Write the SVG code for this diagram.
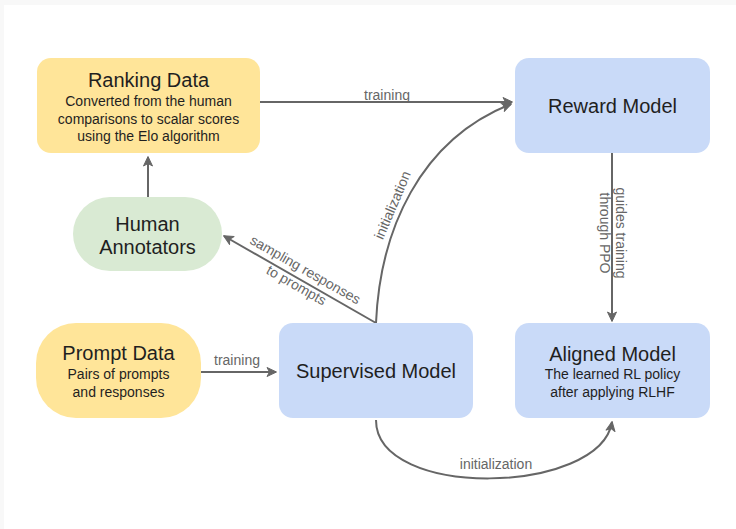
<svg xmlns="http://www.w3.org/2000/svg" width="736" height="529" viewBox="0 0 736 529">
  <style>
    .node-title { font-family: "Liberation Sans", Arial, sans-serif; font-size: 20px; fill: #1f1f1f; text-anchor: middle; }
    .node-sub { font-family: "Liberation Sans", Arial, sans-serif; font-size: 14px; fill: #1f1f1f; text-anchor: middle; }
    .edge-label { font-family: "Liberation Sans", Arial, sans-serif; font-size: 14px; fill: #666666; text-anchor: middle; }
    .yellow { fill: #ffe599; }
    .blue { fill: #c9daf8; }
    .green { fill: #d9ead3; }
    .edge { fill: none; stroke: #666666; stroke-width: 2; }
  </style>
  <defs>
    <marker id="arrow" viewBox="0 0 12 12" refX="10" refY="6" markerWidth="12" markerHeight="12" markerUnits="userSpaceOnUse" orient="auto">
      <path d="M1,1.5 L10.5,6 L1,10.5 L3.5,6 z" fill="#666666" stroke="#666666" stroke-width="1" stroke-linejoin="round"/>
    </marker>
  </defs>

  <!-- page background -->
  <rect x="0" y="0" width="736" height="529" fill="#f8f8f8"/>
  <rect x="4" y="5" width="732" height="524" fill="#ffffff"/>

  <!-- connectors -->
  <g id="connectors">
    <path class="edge" d="M260,102 L512,102" marker-end="url(#arrow)"/>
    <text class="edge-label" x="387" y="100">training</text>

    <path class="edge" d="M148,197 L148,157" marker-end="url(#arrow)"/>

    <path class="edge" d="M201,372 L276,372" marker-end="url(#arrow)"/>
    <text class="edge-label" x="237" y="365">training</text>

    <path class="edge" d="M376,323 L224,236" marker-end="url(#arrow)"/>
    <g transform="translate(300,279) rotate(29.7)">
      <text class="edge-label" x="0" y="-6">sampling responses</text>
      <text class="edge-label" x="0" y="12">to prompts</text>
    </g>

    <path class="edge" d="M376,323 C380,230 420,140 511,104" marker-end="url(#arrow)"/>
    <text class="edge-label" transform="translate(397,207) rotate(-67)" x="0" y="0">initialization</text>

    <path class="edge" d="M612,153 L612,321" marker-end="url(#arrow)"/>
    <g transform="translate(612,233) rotate(90)">
      <text class="edge-label" x="0" y="-4">guides training</text>
      <text class="edge-label" x="0" y="12">through PPO</text>
    </g>

    <path class="edge" d="M376,420 C376,500 600,495 612,422" marker-end="url(#arrow)"/>
    <text class="edge-label" x="496" y="469">initialization</text>
  </g>

  <!-- nodes -->
  <g id="ranking-data">
    <rect class="yellow" x="37" y="58" width="223" height="95" rx="14"/>
    <text class="node-title" x="148.5" y="87">Ranking Data</text>
    <text class="node-sub" x="148.5" y="106">Converted from the human</text>
    <text class="node-sub" x="148.5" y="124">comparisons to scalar scores</text>
    <text class="node-sub" x="148.5" y="141">using the Elo algorithm</text>
  </g>

  <g id="reward-model">
    <rect class="blue" x="515" y="58" width="195" height="95" rx="14"/>
    <text class="node-title" x="612.5" y="113">Reward Model</text>
  </g>

  <g id="human-annotators">
    <rect class="green" x="73" y="197" width="149" height="74" rx="37"/>
    <text class="node-title" x="147.5" y="231">Human</text>
    <text class="node-title" x="147.5" y="254">Annotators</text>
  </g>

  <g id="prompt-data">
    <rect class="yellow" x="36" y="323" width="165" height="95" rx="40"/>
    <text class="node-title" x="118.5" y="360">Prompt Data</text>
    <text class="node-sub" x="118.5" y="379">Pairs of prompts</text>
    <text class="node-sub" x="118.5" y="397">and responses</text>
  </g>

  <g id="supervised-model">
    <rect class="blue" x="279" y="323" width="194" height="95" rx="14"/>
    <text class="node-title" x="376" y="378">Supervised Model</text>
  </g>

  <g id="aligned-model">
    <rect class="blue" x="515" y="323" width="195" height="95" rx="14"/>
    <text class="node-title" x="612.5" y="361">Aligned Model</text>
    <text class="node-sub" x="612.5" y="379">The learned RL policy</text>
    <text class="node-sub" x="612.5" y="397">after applying RLHF</text>
  </g>
</svg>
